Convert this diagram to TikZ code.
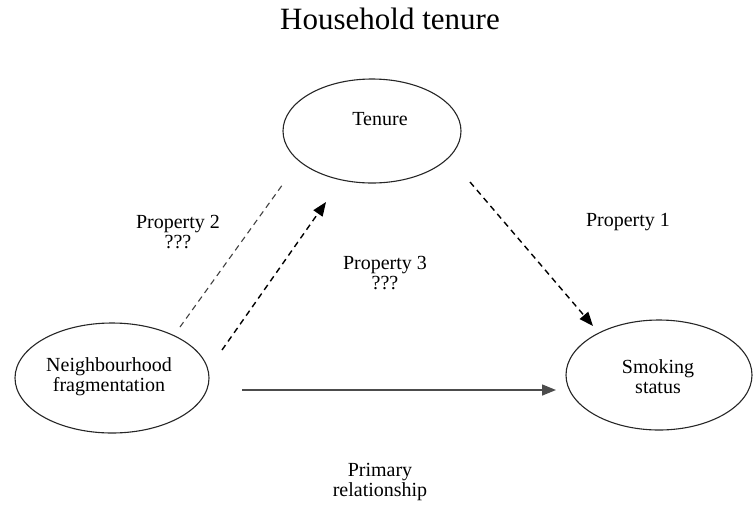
\documentclass[tikz,border=0pt]{standalone}
\usepackage{fontspec}
\setmainfont{Liberation Serif}
\usetikzlibrary{arrows.meta,shapes.geometric}
\begin{document}
\begin{tikzpicture}[x=1pt,y=-1pt,
  oval/.style={draw=black!85,line width=1.1pt,ellipse,inner sep=0pt},
  lbl/.style={align=center,font=\fontsize{20}{20}\selectfont,inner sep=0pt},
  dashlink/.style={line width=1.4pt,dash pattern=on 6pt off 4.5pt},
  tip/.style={-{Triangle[length=14pt,width=11pt]}}]
\useasboundingbox (0,0) rectangle (754,504);

% title
\node[font=\fontsize{31}{31}\selectfont,inner sep=0pt] (title) at (390,19) {Household tenure};

% the three variables
\node[oval,minimum width=178pt,minimum height=104pt] (tenure) at (372,131) {};
\node[lbl] (tenuretext) at (380,119) {Tenure};

\node[oval,minimum width=194pt,minimum height=110pt] (neigh) at (112,378) {};
\node[lbl] (neightext) at (109,377) {Neighbourhood\\fragmentation};

\node[oval,minimum width=186pt,minimum height=110pt] (smoke) at (659,375) {};
\node[lbl] (smoketext) at (658,377) {Smoking\\status};

% end points of the links
\coordinate (p2a) at (180,327);
\coordinate (p2b) at (283,184);
\coordinate (p3a) at (222,350);
\coordinate (p3b) at (326,202);
\coordinate (p1a) at (470,182);
\coordinate (p1b) at (593,326);
\coordinate (pra) at (242,390);
\coordinate (prb) at (556,390);

% links
\draw[dashlink,line width=1.1pt,black!75] (p2a) -- (p2b);
\draw[dashlink,tip] (p3a) -- (p3b);
\draw[dashlink,tip] (p1a) -- (p1b);
\draw[line width=1.5pt,black!70,tip] (pra) -- (prb);

% link labels
\node[lbl] (prop2) at (178,232) {Property 2\\???};
\node[lbl] (prop3) at (385,273) {Property 3\\???};
\node[lbl] (prop1) at (628,222) {Property 1};
\node[lbl] (primary) at (380,482) {Primary\\relationship};
\end{tikzpicture}
\end{document}
